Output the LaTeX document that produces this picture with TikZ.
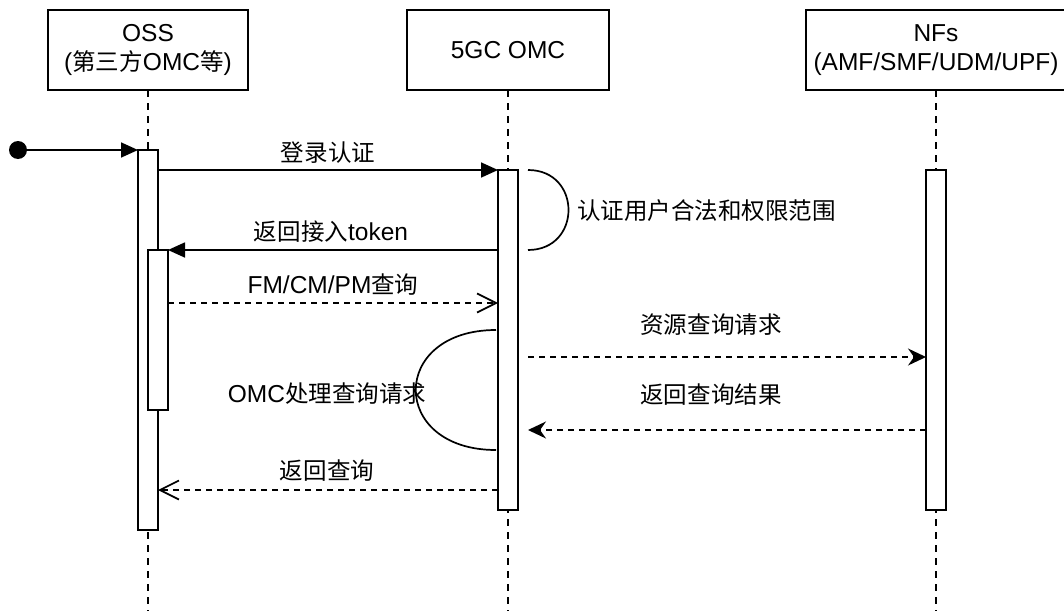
\documentclass[tikz,border=0pt]{standalone}
\usepackage{fontspec}
\setmainfont{Liberation Sans}
\newfontfamily\zh[Scale=0.96]{Noto Sans CJK SC}
\usetikzlibrary{arrows.meta}

\tikzset{
  head/.style={draw, line width=1.7pt, minimum height=80pt, align=center, inner sep=0pt, outer sep=0pt},
  actbar/.style={draw, fill=white, line width=1.7pt, minimum width=20pt, inner sep=0pt, outer sep=0pt},
  lifeline/.style={line width=1.7pt, dash pattern=on 7pt off 6pt},
  call/.style={line width=1.7pt, -{Triangle[length=17pt,width=15pt]}},
  ask/.style={line width=1.7pt, dash pattern=on 6pt off 5pt, -{Straight Barb[length=19pt,width=19pt]}},
  fetch/.style={line width=1.7pt, dash pattern=on 6pt off 5pt, -{Stealth[length=18pt,width=17pt,inset=6pt]}},
  selfloop/.style={line width=1.7pt},
  lbl/.style={inner sep=0pt},
}

\begin{document}
\begin{tikzpicture}[x=1pt, y=-1pt, font=\fontsize{24.5pt}{29pt}\selectfont]
	\useasboundingbox (0,0) rectangle (1064,610);
	% participants
	\node[head, minimum width=200pt] (oss) at (148,50) {OSS\\({\zh 第三方}OMC{\zh 等})};
	\node[head, minimum width=202pt] (omc) at (508,50) {5GC OMC};
	\node[head, minimum width=260pt] (nf) at (936,50) {NFs\\(AMF/SMF/UDM/UPF)};
	\coordinate (bottom) at (0,612);
	\draw[lifeline] (oss.south) -- (oss.south |- bottom);
	\draw[lifeline] (omc.south) -- (omc.south |- bottom);
	\draw[lifeline] (nf.south) -- (nf.south |- bottom);
	% activations
	\node[actbar, minimum height=380pt] (ossA) at (148,340) {};
	\node[actbar, minimum height=160pt] (ossB) at (158,330) {};
	\node[actbar, minimum height=340pt] (omcA) at (508,340) {};
	\node[actbar, minimum height=340pt] (nfA) at (936,340) {};
	% message levels
	\coordinate (y3) at (0,303);
	\coordinate (y4) at (528,357);
	\coordinate (y5) at (528,430);
	\coordinate (y6) at (0,490);
	% start
	\node[circle, fill, minimum size=18pt, inner sep=0pt] (start) at (18,150) {};
	\draw[call] (start) -- (ossA.north west);
	% messages
	\draw[call] (ossA.east |- omcA.north) -- (omcA.north west);
	\node[lbl] (l1) at (328,153) {\zh 登录认证};
	\coordinate (c1a) at (528,170);
	\coordinate (c1b) at (528,250);
	\draw[selfloop] (c1a) .. controls (582,170) and (582,250) .. (c1b);
	\node[lbl, anchor=west] (l1b) at (577,211) {\zh 认证用户合法和权限范围};
	\draw[call] (omcA.west |- ossB.north) -- (ossB.north east);
	\node[lbl] (l2) at (331,232) {{\zh 返回接入}token};
	\draw[ask] (ossB.east |- y3) -- (omcA.west |- y3);
	\node[lbl] (l3) at (333,285) {FM/CM/PM{\zh 查询}};
	\coordinate (c2a) at (496,330);
	\coordinate (c2b) at (496,450);
	\draw[selfloop] (c2a) .. controls (389,330) and (389,450) .. (c2b);
	\node[lbl] (l3b) at (327,394) {OMC{\zh 处理查询请求}};
	\draw[fetch] (y4) -- (nfA.west |- y4);
	\node[lbl] (l4) at (711,325) {\zh 资源查询请求};
	\draw[fetch] (nfA.west |- y5) -- (y5);
	\node[lbl] (l5) at (711,395) {\zh 返回查询结果};
	\draw[ask] (omcA.west |- y6) -- (ossA.east |- y6);
	\node[lbl] (l6) at (327,471) {\zh 返回查询};
\end{tikzpicture}
\end{document}
